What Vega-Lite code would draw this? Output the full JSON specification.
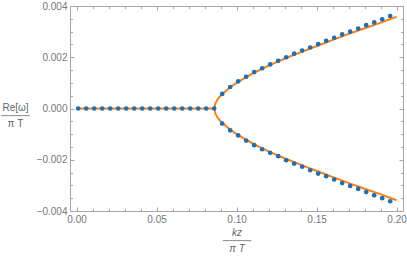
{
  "$schema": "https://vega.github.io/schema/vega-lite/v6.json",
  "width": 333,
  "height": 205,
  "autosize": {"type": "none"},
  "padding": {"left": 70, "top": 6, "right": 4, "bottom": 45},
  "background": "white",
  "config": {
    "view": {"stroke": null},
    "axis": {
      "domainColor": "#a6a6a6",
      "tickColor": "#a6a6a6",
      "labelColor": "#777777",
      "labelFont": "Liberation Sans",
      "labelFontSize": 10,
      "titleColor": "#666666",
      "titleFont": "Liberation Sans",
      "titleFontSize": 10,
      "titleFontWeight": "normal",
      "grid": false,
      "labelFlush": false,
      "labelOverlap": false
    }
  },
  "datasets": {
    "curve": [
      {"k": 0.0, "w": 0, "branch": "up"},
      {"k": 0.0862, "w": 0, "branch": "up"},
      {"k": 0.0865, "w": 0.00014, "branch": "up"},
      {"k": 0.087, "w": 0.00023, "branch": "up"},
      {"k": 0.088, "w": 0.00034, "branch": "up"},
      {"k": 0.089, "w": 0.00043, "branch": "up"},
      {"k": 0.091, "w": 0.00056, "branch": "up"},
      {"k": 0.096, "w": 0.00083, "branch": "up"},
      {"k": 0.101, "w": 0.00104, "branch": "up"},
      {"k": 0.111, "w": 0.0014, "branch": "up"},
      {"k": 0.121, "w": 0.0017, "branch": "up"},
      {"k": 0.131, "w": 0.00197, "branch": "up"},
      {"k": 0.141, "w": 0.00222, "branch": "up"},
      {"k": 0.151, "w": 0.00246, "branch": "up"},
      {"k": 0.161, "w": 0.0027, "branch": "up"},
      {"k": 0.171, "w": 0.00293, "branch": "up"},
      {"k": 0.181, "w": 0.00315, "branch": "up"},
      {"k": 0.191, "w": 0.00337, "branch": "up"},
      {"k": 0.2, "w": 0.00358, "branch": "up"},
      {"k": 0.0862, "w": 0, "branch": "down"},
      {"k": 0.0865, "w": -0.00014, "branch": "down"},
      {"k": 0.087, "w": -0.00023, "branch": "down"},
      {"k": 0.088, "w": -0.00034, "branch": "down"},
      {"k": 0.089, "w": -0.00043, "branch": "down"},
      {"k": 0.091, "w": -0.00056, "branch": "down"},
      {"k": 0.096, "w": -0.00083, "branch": "down"},
      {"k": 0.101, "w": -0.00104, "branch": "down"},
      {"k": 0.111, "w": -0.0014, "branch": "down"},
      {"k": 0.121, "w": -0.0017, "branch": "down"},
      {"k": 0.131, "w": -0.00197, "branch": "down"},
      {"k": 0.141, "w": -0.00222, "branch": "down"},
      {"k": 0.151, "w": -0.00246, "branch": "down"},
      {"k": 0.161, "w": -0.0027, "branch": "down"},
      {"k": 0.171, "w": -0.00293, "branch": "down"},
      {"k": 0.181, "w": -0.00315, "branch": "down"},
      {"k": 0.191, "w": -0.00337, "branch": "down"},
      {"k": 0.2, "w": -0.00358, "branch": "down"}
    ],
    "pts": [
      {"k": 0.001, "w": 0}, {"k": 0.006, "w": 0}, {"k": 0.011, "w": 0}, {"k": 0.016, "w": 0},
      {"k": 0.021, "w": 0}, {"k": 0.026, "w": 0}, {"k": 0.031, "w": 0}, {"k": 0.036, "w": 0},
      {"k": 0.041, "w": 0}, {"k": 0.046, "w": 0}, {"k": 0.051, "w": 0}, {"k": 0.056, "w": 0},
      {"k": 0.061, "w": 0}, {"k": 0.066, "w": 0}, {"k": 0.071, "w": 0}, {"k": 0.076, "w": 0},
      {"k": 0.081, "w": 0}, {"k": 0.086, "w": 0},
      {"k": 0.091, "w": 0.00057}, {"k": 0.096, "w": 0.00084}, {"k": 0.101, "w": 0.00106},
      {"k": 0.106, "w": 0.00124}, {"k": 0.111, "w": 0.00142}, {"k": 0.116, "w": 0.00157},
      {"k": 0.121, "w": 0.00172}, {"k": 0.126, "w": 0.00186}, {"k": 0.131, "w": 0.002},
      {"k": 0.136, "w": 0.00214}, {"k": 0.141, "w": 0.00226}, {"k": 0.146, "w": 0.00238},
      {"k": 0.151, "w": 0.00251}, {"k": 0.156, "w": 0.00264}, {"k": 0.161, "w": 0.00276},
      {"k": 0.166, "w": 0.00289}, {"k": 0.171, "w": 0.003}, {"k": 0.176, "w": 0.00312},
      {"k": 0.181, "w": 0.00325}, {"k": 0.186, "w": 0.00336}, {"k": 0.191, "w": 0.00348},
      {"k": 0.196, "w": 0.00361},
      {"k": 0.091, "w": -0.00059}, {"k": 0.096, "w": -0.00085}, {"k": 0.101, "w": -0.00105},
      {"k": 0.106, "w": -0.00125}, {"k": 0.111, "w": -0.00143}, {"k": 0.116, "w": -0.00159},
      {"k": 0.121, "w": -0.00173}, {"k": 0.126, "w": -0.00186}, {"k": 0.131, "w": -0.00202},
      {"k": 0.136, "w": -0.00215}, {"k": 0.141, "w": -0.00227}, {"k": 0.146, "w": -0.00241},
      {"k": 0.151, "w": -0.00254}, {"k": 0.156, "w": -0.00264}, {"k": 0.161, "w": -0.00277},
      {"k": 0.166, "w": -0.00291}, {"k": 0.171, "w": -0.00302}, {"k": 0.176, "w": -0.00314},
      {"k": 0.181, "w": -0.00326}, {"k": 0.186, "w": -0.00339}, {"k": 0.191, "w": -0.0035},
      {"k": 0.196, "w": -0.00362}
    ]
  },
  "layer": [
    {
      "mark": {"type": "rule", "color": "#cccccc", "strokeWidth": 1},
      "encoding": {
        "y": {"datum": 0, "type": "quantitative", "scale": {"domain": [-0.004, 0.004], "nice": false, "zero": false}, "axis": null}
      }
    },
    {
      "data": {"name": "curve"},
      "mark": {"type": "line", "color": "#ff7f0e", "strokeWidth": 2},
      "encoding": {
        "x": {
          "field": "k", "type": "quantitative",
          "scale": {"domain": [-0.0041, 0.204], "nice": false, "zero": false},
          "axis": {
            "orient": "bottom",
            "values": [0, 0.01, 0.02, 0.03, 0.04, 0.05, 0.06, 0.07, 0.08, 0.09, 0.1, 0.11, 0.12, 0.13, 0.14, 0.15, 0.16, 0.17, 0.18, 0.19, 0.2],
            "tickSize": {"condition": {"test": "abs(datum.value*20 - round(datum.value*20)) < 0.001", "value": -4}, "value": -2.5},
            "labelExpr": "abs(datum.value*20 - round(datum.value*20)) < 0.001 ? format(datum.value, '.2f') : ''",
            "labelPadding": 7,
            "title": ["kz", "────", "π T"],
            "titleFontStyle": "italic",
            "titleLineHeight": 8,
            "titleBaseline": "top",
            "titleY": 16
          }
        },
        "y": {
          "field": "w", "type": "quantitative",
          "scale": {"domain": [-0.004, 0.004], "nice": false, "zero": false},
          "axis": {
            "orient": "left",
            "values": [-0.004, -0.0035, -0.003, -0.0025, -0.002, -0.0015, -0.001, -0.0005, 0, 0.0005, 0.001, 0.0015, 0.002, 0.0025, 0.003, 0.0035, 0.004],
            "tickSize": {"condition": {"test": "abs(datum.value*500 - round(datum.value*500)) < 0.001", "value": -4}, "value": -2.5},
            "labelExpr": "abs(datum.value*500 - round(datum.value*500)) < 0.001 ? replace(format(datum.value, '.3f'), '-', '−') : ''",
            "labelPadding": 7,
            "title": ["Re[ω]", "────", "π T"],
            "titleAngle": 0,
            "titleAlign": "center",
            "titleBaseline": "top",
            "titleLineHeight": 8,
            "titleX": -55,
            "titleY": 96
          }
        },
        "detail": {"field": "branch"}
      }
    },
    {
      "data": {"name": "pts"},
      "mark": {"type": "circle", "color": "#1f6fb8", "opacity": 1, "size": 22},
      "encoding": {
        "x": {
          "field": "k", "type": "quantitative",
          "axis": {
            "orient": "top",
            "values": [0, 0.01, 0.02, 0.03, 0.04, 0.05, 0.06, 0.07, 0.08, 0.09, 0.1, 0.11, 0.12, 0.13, 0.14, 0.15, 0.16, 0.17, 0.18, 0.19, 0.2],
            "tickSize": {"condition": {"test": "abs(datum.value*20 - round(datum.value*20)) < 0.001", "value": -4}, "value": -2.5},
            "labels": false,
            "title": null
          }
        },
        "y": {
          "field": "w", "type": "quantitative",
          "axis": {
            "orient": "right",
            "values": [-0.004, -0.0035, -0.003, -0.0025, -0.002, -0.0015, -0.001, -0.0005, 0, 0.0005, 0.001, 0.0015, 0.002, 0.0025, 0.003, 0.0035, 0.004],
            "tickSize": {"condition": {"test": "abs(datum.value*500 - round(datum.value*500)) < 0.001", "value": -4}, "value": -2.5},
            "labels": false,
            "title": null
          }
        }
      }
    }
  ],
  "resolve": {"axis": {"x": "independent", "y": "independent"}}
}
